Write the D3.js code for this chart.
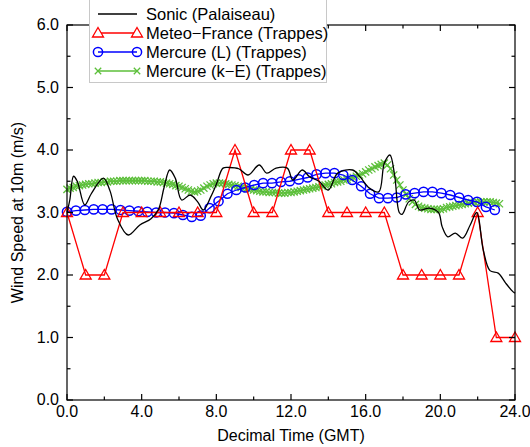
<!DOCTYPE html>
<html><head><meta charset="utf-8">
<script src="https://cdn.jsdelivr.net/npm/d3@7"></script>
<style>body{margin:0;background:#fff}svg{display:block}text{font-family:"Liberation Sans",Arial,sans-serif}</style>
</head><body><div id="chart"></div>
<script>
const xTicks=[0,4,8,12,16,20,24];
const yTicks=[0,1,2,3,4,5,6];
const seriesNames=["Sonic (Palaiseau)","Meteo\u2212France (Trappes)","Mercure (L) (Trappes)","Mercure (k\u2212E) (Trappes)"];

const sonicT=[0,0.15,0.35,0.55,0.95,1.3,1.95,2.3,2.7,3.28,3.9,4.5,4.9,5.2,5.5,5.8,6.14,6.6,7.0,7.3,7.7,8.0,8.36,8.7,9.2,9.7,10.3,10.7,11.2,11.8,12.1,12.6,13.0,13.5,14.0,14.5,15.3,15.7,16.2,16.7,17.0,17.3,17.55,17.8,17.95,18.3,18.6,18.9,19.4,19.9,20.1,20.4,20.8,21.2,21.6,21.95,22.3,22.66,23.1,23.5,23.9,24.0];
const sonicV=[3.0,3.2,3.58,3.5,3.12,3.3,3.55,3.35,2.9,2.64,2.8,2.9,3.05,3.4,3.68,3.55,3.2,3.28,3.17,3.04,3.25,3.45,3.71,3.72,3.7,3.6,3.76,3.63,3.71,3.71,3.52,3.68,3.57,3.5,3.36,3.63,3.68,3.57,3.39,3.33,3.79,3.92,3.6,3.0,2.97,3.17,3.2,3.04,3.07,3.0,2.77,2.61,2.67,2.59,2.8,3.0,2.4,2.07,2.03,1.87,1.73,1.71];

const mfT=[0,1,2,3,4,5,6,7,8,9,10,11,12,13,14,15,16,17,18,19,20,21,22,23,24];
const mfV=[3,2,2,3,3,3,3,3,3,4,3,3,4,4,3,3,3,3,2,2,2,2,3,1,1];

const mercLStep=0.4775;
const mercLV=[3.01,3.03,3.04,3.05,3.05,3.05,3.04,3.03,3.02,3.01,3.00,3.00,2.99,2.96,2.93,2.95,3.07,3.18,3.30,3.36,3.40,3.44,3.47,3.47,3.49,3.50,3.53,3.56,3.61,3.63,3.63,3.60,3.52,3.42,3.30,3.23,3.23,3.24,3.29,3.31,3.33,3.33,3.31,3.28,3.24,3.20,3.17,3.09,3.04];

const mercKEStep=1/6;
const mercKEV=[3.37,3.39,3.40,3.42,3.43,3.44,3.45,3.46,3.46,3.47,3.48,3.48,3.49,3.49,3.50,3.50,3.50,3.51,3.51,3.51,3.51,3.51,3.51,3.51,3.51,3.51,3.50,3.50,3.50,3.49,3.49,3.48,3.47,3.46,3.45,3.43,3.42,3.40,3.38,3.36,3.34,3.33,3.34,3.36,3.39,3.42,3.44,3.46,3.47,3.47,3.47,3.46,3.45,3.44,3.43,3.42,3.40,3.39,3.38,3.37,3.36,3.35,3.34,3.33,3.33,3.32,3.32,3.32,3.31,3.31,3.31,3.32,3.32,3.33,3.34,3.35,3.36,3.37,3.38,3.39,3.40,3.41,3.42,3.44,3.45,3.46,3.48,3.49,3.50,3.52,3.53,3.55,3.56,3.58,3.60,3.62,3.65,3.68,3.70,3.73,3.75,3.77,3.79,3.76,3.70,3.60,3.52,3.44,3.36,3.29,3.22,3.17,3.13,3.10,3.08,3.07,3.06,3.05,3.05,3.05,3.05,3.06,3.08,3.09,3.10,3.11,3.12,3.13,3.14,3.15,3.16,3.16,3.17,3.17,3.17,3.17,3.17,3.16,3.15,3.14];

const W=530,H=447;
const m={l:67,r:15,t:25,b:47};
const svg=d3.select("#chart").append("svg").attr("width",W).attr("height",H);
const x=d3.scaleLinear().domain([0,24]).range([m.l,W-m.r]);
const y=d3.scaleLinear().domain([0,6]).range([H-m.b,m.t]);

const sonic=sonicT.map((t,i)=>({t,v:sonicV[i]}));
const mf=mfT.map((t,i)=>({t,v:mfV[i]}));
const ml=mercLV.map((v,i)=>({t:i*mercLStep,v}));
const mk=mercKEV.map((v,i)=>({t:i*mercKEStep,v}));

const line=d3.line().x(d=>x(d.t)).y(d=>y(d.v));
const g=svg.append("g");

function triPath(cx,cy){return `M${cx},${cy-5.5}L${cx+5.5},${cy+4}L${cx-5.5},${cy+4}Z`;}
function xPath(cx,cy,s){return `M${cx-s},${cy-s}L${cx+s},${cy+s}M${cx-s},${cy+s}L${cx+s},${cy-s}`;}

const green="#5cbf3a";
// Mercure k-E (green)
g.append("path").datum(mk).attr("d",line).attr("fill","none").attr("stroke",green).attr("stroke-width",1.3);
g.append("g").selectAll("path").data(mk).join("path").attr("d",d=>xPath(x(d.t),y(d.v),3.6)).attr("stroke",green).attr("stroke-width",1.3).attr("fill","none");
// Mercure L (blue)
g.append("path").datum(ml).attr("d",line).attr("fill","none").attr("stroke","#0000ff").attr("stroke-width",1.3);
g.append("g").selectAll("circle").data(ml).join("circle").attr("cx",d=>x(d.t)).attr("cy",d=>y(d.v)).attr("r",4.6).attr("fill","none").attr("stroke","#0000ff").attr("stroke-width",1.5);
// Meteo-France (red)
g.append("path").datum(mf).attr("d",line).attr("fill","none").attr("stroke","#ff0000").attr("stroke-width",1.3);
g.append("g").selectAll("path").data(mf).join("path").attr("d",d=>triPath(x(d.t),y(d.v))).attr("fill","none").attr("stroke","#ff0000").attr("stroke-width",1.3);
// Sonic (black)
g.append("path").datum(sonic).attr("d",d3.line().curve(d3.curveCatmullRom.alpha(0.5)).x(d=>x(d.t)).y(d=>y(d.v))).attr("fill","none").attr("stroke","#000").attr("stroke-width",1.3);

// Axes with inward ticks
const fmt=d3.format(".1f");
const xMinor=d3.range(0,25,2), yMinor=d3.range(0,6.01,0.5);
const ax=svg.append("g").attr("stroke","#000").attr("stroke-width",1.2);
ax.append("rect").attr("x",x(0)).attr("y",y(6)).attr("width",x(24)-x(0)).attr("height",y(0)-y(6)).attr("fill","none");
xMinor.forEach(t=>{const L=xTicks.includes(t)?6:3.5;
  ax.append("line").attr("x1",x(t)).attr("x2",x(t)).attr("y1",y(0)).attr("y2",y(0)-L);
  ax.append("line").attr("x1",x(t)).attr("x2",x(t)).attr("y1",y(6)).attr("y2",y(6)+L);});
yMinor.forEach(v=>{const L=yTicks.includes(v)?6:3.5;
  ax.append("line").attr("x1",x(0)).attr("x2",x(0)+L).attr("y1",y(v)).attr("y2",y(v));
  ax.append("line").attr("x1",x(24)).attr("x2",x(24)-L).attr("y1",y(v)).attr("y2",y(v));});

const lab=svg.append("g").attr("font-size",16).attr("fill","#000");
xTicks.forEach(t=>lab.append("text").attr("x",x(t)).attr("y",y(0)+17).attr("text-anchor","middle").text(fmt(t)));
yTicks.forEach(v=>lab.append("text").attr("x",x(0)-8).attr("y",y(v)+5).attr("text-anchor","end").text(fmt(v)));
lab.append("text").attr("x",(x(0)+x(24))/2).attr("y",441).attr("text-anchor","middle").text("Decimal Time (GMT)");
lab.append("text").attr("transform",`translate(23,${(y(0)+y(6))/2}) rotate(-90)`).attr("text-anchor","middle").text("Wind Speed at 10m (m/s)");

// Legend
const lg=svg.append("g");
lg.append("rect").attr("x",89.5).attr("y",-1).attr("width",237).attr("height",83.5).attr("fill","#fff").attr("stroke","#c8c8c8").attr("stroke-width",1);
const rows=[14,33,52,71];
const lx1=98,lx2=137;
lg.append("line").attr("x1",lx1).attr("x2",lx2).attr("y1",rows[0]).attr("y2",rows[0]).attr("stroke","#000").attr("stroke-width",1.3);
lg.append("line").attr("x1",lx1).attr("x2",lx2).attr("y1",rows[1]).attr("y2",rows[1]).attr("stroke","#ff0000").attr("stroke-width",1.3);
[lx1,lx2].forEach(px=>lg.append("path").attr("d",triPath(px,rows[1])).attr("fill","#fff").attr("stroke","#ff0000").attr("stroke-width",1.3));
lg.append("line").attr("x1",lx1).attr("x2",lx2).attr("y1",rows[2]).attr("y2",rows[2]).attr("stroke","#0000ff").attr("stroke-width",1.3);
[lx1,lx2].forEach(px=>lg.append("circle").attr("cx",px).attr("cy",rows[2]).attr("r",4.6).attr("fill","none").attr("stroke","#0000ff").attr("stroke-width",1.5));
lg.append("line").attr("x1",lx1).attr("x2",lx2).attr("y1",rows[3]).attr("y2",rows[3]).attr("stroke",green).attr("stroke-width",1.3);
[lx1,lx2].forEach(px=>lg.append("path").attr("d",xPath(px,rows[3],3.2)).attr("stroke",green).attr("stroke-width",1.3));
seriesNames.forEach((n,i)=>lg.append("text").attr("x",146).attr("y",rows[i]+6).attr("font-size",16.5).text(n));
</script></body></html>
